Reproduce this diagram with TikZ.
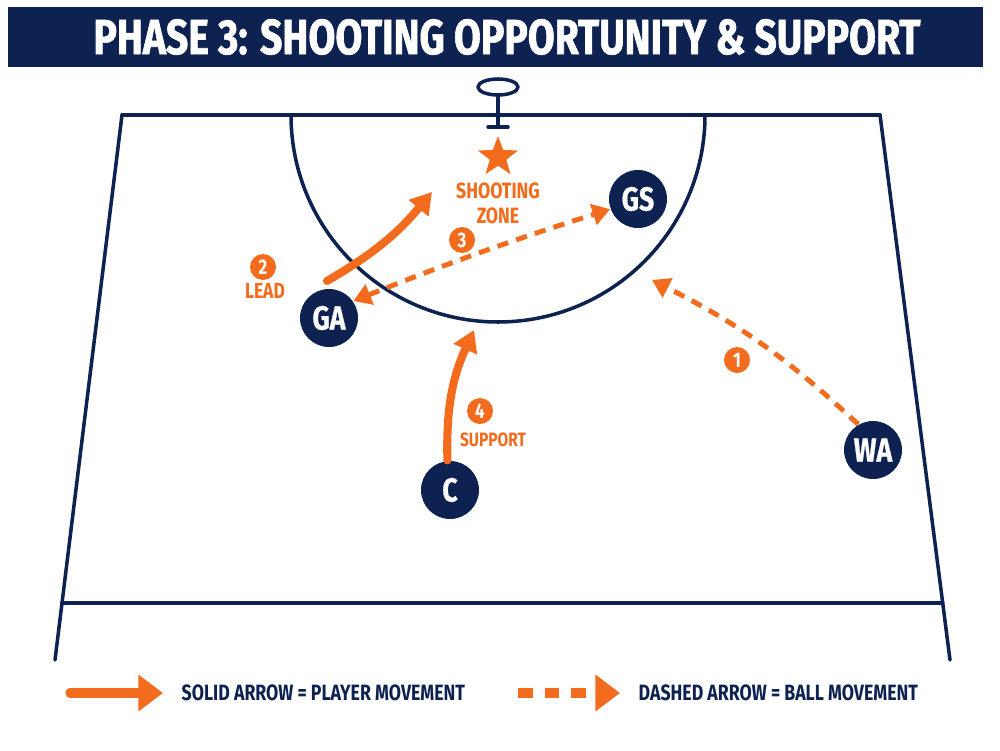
\documentclass[tikz,border=0pt]{standalone}
\usepackage{fontspec}
\setmainfont{Fira Sans}[FakeStretch=0.8]
\usepackage{tikz}
\usetikzlibrary{arrows.meta,calc,shapes.geometric}
\definecolor{courtnavy}{HTML}{0D2250}
\definecolor{playorange}{HTML}{F36B1C}

\begin{document}
\begin{tikzpicture}[line cap=round,line join=round,
  font=\bfseries,
  court/.style={courtnavy,line width=1pt},
  player/.style={circle,fill=courtnavy,text=white,minimum size=5.8mm,inner sep=0pt,
    font=\fontsize{9.5}{10}\bfseries\addfontfeature{FakeBold=0.6}},
  badge/.style={circle,fill=playorange,text=white,minimum size=2.6mm,inner sep=0pt,
    font=\fontsize{6}{6}\bfseries},
  tag/.style={text=playorange,inner sep=0pt,align=center,font=\fontsize{5.5}{6.2}\bfseries},
  move/.style={playorange,line width=2.3pt,-{Triangle[length=6pt,width=7pt]}},
  pass/.style={playorange,line width=1.4pt,dash pattern=on 3.2pt off 2.4pt,line cap=butt,
    -{Triangle[length=5pt,width=6pt]}},
  legendtext/.style={anchor=west,text=courtnavy,inner sep=0pt,font=\fontsize{6.3}{6.5}\bfseries}]
\path[use as bounding box] (0,0) rectangle (10,7.5);
\fill[white] (0,0) rectangle (10,7.5);

% title bar
\fill[courtnavy] (0.08,6.83) rectangle (9.83,7.43);
\node[text=white,inner sep=0pt] (title) at (5.07,7.13)
  {\resizebox{8.27cm}{0.35cm}{\addfontfeature{FakeBold=1.2}PHASE 3: SHOOTING OPPORTUNITY \& SUPPORT}};

% court outline
\coordinate (tl) at (1.22,6.35);
\coordinate (tr) at (8.80,6.35);
\coordinate (bl) at (0.55,0.90);
\coordinate (br) at (9.50,0.90);
\draw[court] (tl)--(tr);
\draw[court] (tl)--(bl);
\draw[court] (tr)--(br);
\draw[court] ($(tl)!0.8954!(bl)$)--($(tr)!0.8954!(br)$);

% goal circle and post
\coordinate (goal) at (4.98,6.35);
\draw[court] ($(goal)+(-2.07,0)$) arc[start angle=180,end angle=360,radius=2.07];
\draw[court] (4.98,6.55)--(4.98,6.23);
\draw[court] (4.88,6.23)--(5.08,6.23);
\draw[court,fill=white] (4.98,6.63) ellipse[x radius=0.2,y radius=0.08];

% shooting zone
\node[star,star points=5,star point ratio=2.4,fill=playorange,minimum size=4.2mm,inner sep=0pt]
  (aim) at (4.98,5.93) {};
\node[tag,font=\fontsize{6.3}{7.2}\bfseries] (zone) at (4.98,5.47) {SHOOTING\\ZONE};

% players
\node[player] (gs) at (6.38,5.51) {GS};
\node[player] (ga) at (3.29,4.32) {GA};
\node[player] (c)  at (4.50,2.60) {C};
\node[player] (wa) at (8.73,3.00) {WA};

% movements
\coordinate (leadEnd) at (4.32,5.58);
\coordinate (ringEdge) at (6.52,4.70);
\coordinate (supportEnd) at (4.74,4.20);
\draw[pass] (wa.120) to[bend right=8] (ringEdge);
\draw[move] ($(ga)+(-0.02,0.37)$) to[bend right=10] (leadEnd);
\draw[pass,{Triangle[length=5pt,width=6pt]}-{Triangle[length=5pt,width=6pt]}]
  (ga.35) to[bend left=2] (gs.200);
\draw[move] (c.95) to[bend left=13] (supportEnd);

% step badges
\node[badge] (one)   at (7.37,3.90) {1};
\node[badge] (two)   at (2.63,4.83) {2};
\node[badge] (three) at (4.62,5.10) {3};
\node[badge] (four)  at (4.80,3.39) {4};
\node[tag,font=\fontsize{6.2}{7}\bfseries] (lead) at (2.65,4.59) {LEAD};
\node[tag] (support) at (4.93,3.10) {SUPPORT};

% legend
\coordinate (s0) at (0.70,0.57);
\coordinate (s1) at (1.63,0.57);
\coordinate (d0) at (5.18,0.57);
\coordinate (d1) at (6.20,0.57);
\draw[move,line width=2.6pt,-{Triangle[length=7pt,width=10pt]}] (s0)--(s1);
\node[legendtext] (solidkey) at (1.81,0.57) {SOLID ARROW = PLAYER MOVEMENT};
\draw[pass,line width=2.6pt,dash pattern=on 4.2pt off 3.4pt,-{Triangle[length=7pt,width=10pt]}] (d0)--(d1);
\node[legendtext] (dashkey) at (6.38,0.57) {DASHED ARROW = BALL MOVEMENT};
\end{tikzpicture}
\end{document}
